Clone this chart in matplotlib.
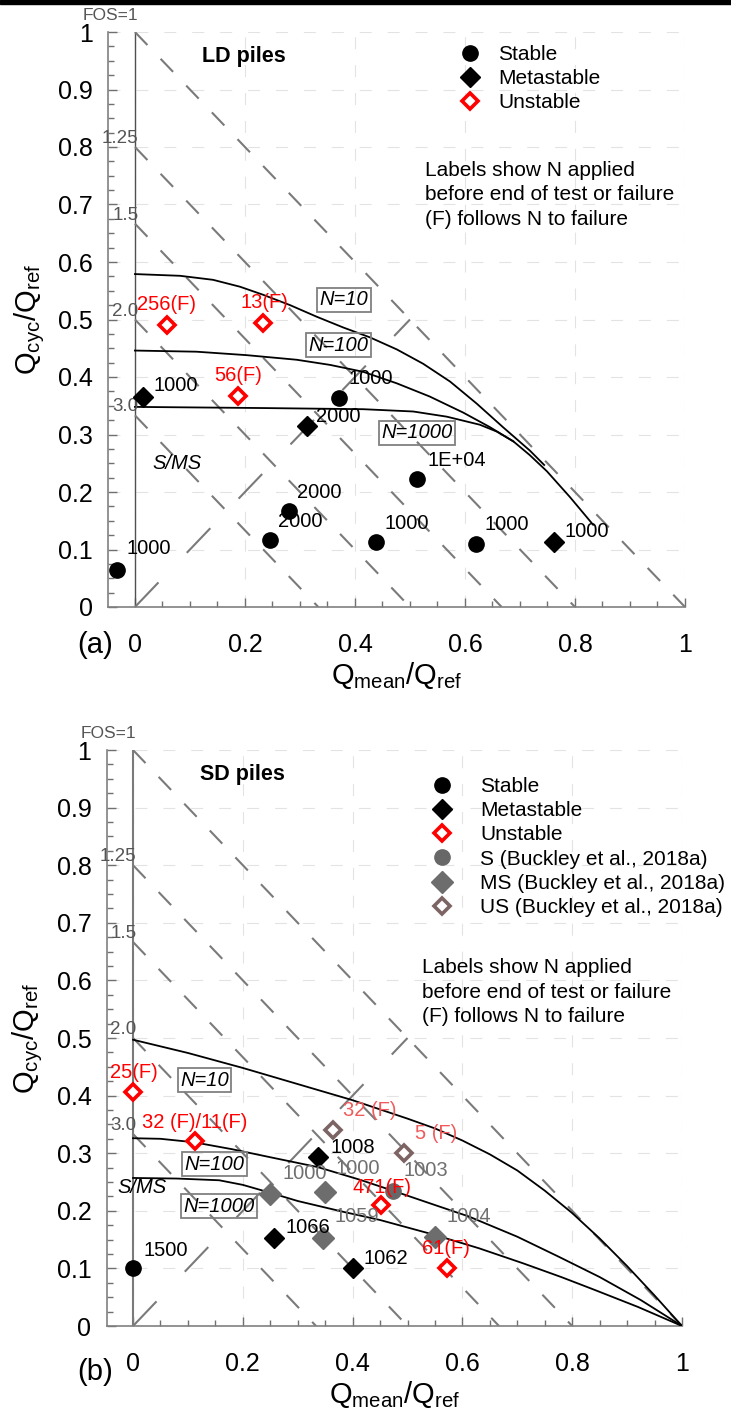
import matplotlib
matplotlib.use('Agg')
import matplotlib.pyplot as plt
import numpy as np
from matplotlib.lines import Line2D
from matplotlib.patches import Rectangle
from matplotlib.ticker import FuncFormatter

plt.rcParams['font.family'] = ['Liberation Sans', 'DejaVu Sans']
plt.rcParams['mathtext.fontset'] = 'custom'
plt.rcParams['mathtext.rm'] = 'Liberation Sans'
plt.rcParams['mathtext.it'] = 'Liberation Sans:italic'
plt.rcParams['lines.scale_dashes'] = False

# --- factor of safety lines (Qmean + Qcyc = 1/FOS) ---
fos_values = [1.0, 1.25, 1.5, 2.0, 3.0]
fos_labels = ['FOS=1', '1.25', '1.5', '2.0', '3.0']
one_way_x = [0.0, 0.5]
one_way_y = [0.0, 0.5]

# --- panel (a): LD piles ---
ld_stable_x = [-0.033, 0.245, 0.28, 0.371, 0.513, 0.438, 0.62]
ld_stable_y = [0.064, 0.117, 0.167, 0.363, 0.222, 0.113, 0.11]
ld_stable_n = ['1000', '2000', '2000', '1000', '1E+04', '1000', '1000']
ld_meta_x = [0.015, 0.313, 0.762]
ld_meta_y = [0.366, 0.314, 0.113]
ld_meta_n = ['1000', '2000', '1000']
ld_unst_x = [0.058, 0.233, 0.187]
ld_unst_y = [0.491, 0.494, 0.367]
ld_unst_n = ['256(F)', '13(F)', '56(F)']

ld_n10_x = [0.0, 0.082, 0.142, 0.191, 0.233, 0.282, 0.33, 0.379, 0.427, 0.476,
            0.524, 0.573, 0.621, 0.67, 0.718, 0.744]
ld_n10_y = [0.579, 0.576, 0.569, 0.557, 0.543, 0.525, 0.505, 0.486, 0.469, 0.448,
            0.423, 0.392, 0.354, 0.312, 0.272, 0.247]
ld_n100_x = [0.0, 0.112, 0.203, 0.294, 0.355, 0.415, 0.476, 0.536, 0.597, 0.645, 0.688]
ld_n100_y = [0.446, 0.444, 0.438, 0.43, 0.421, 0.409, 0.389, 0.366, 0.338, 0.313, 0.288]
ld_n1000_x = [0.0, 0.233, 0.415, 0.506, 0.567, 0.627, 0.658, 0.688, 0.718, 0.749, 0.791, 0.833]
ld_n1000_y = [0.348, 0.346, 0.344, 0.34, 0.331, 0.317, 0.305, 0.288, 0.264, 0.236, 0.191, 0.143]

# --- panel (b): SD piles ---
sd_stable_x = [0.0]
sd_stable_y = [0.1]
sd_stable_n = ['1500']
sd_meta_x = [0.337, 0.257, 0.40]
sd_meta_y = [0.293, 0.153, 0.10]
sd_meta_n = ['1008', '1066', '1062']
sd_unst_x = [0.0, 0.113, 0.451, 0.571]
sd_unst_y = [0.406, 0.321, 0.21, 0.10]
sd_unst_n = ['25(F)', '32 (F)/11(F)', '471(F)', '61(F)']
bk_s_x = [0.474]
bk_s_y = [0.234]
bk_s_n = ['1003']
bk_ms_x = [0.25, 0.35, 0.346, 0.55]
bk_ms_y = [0.229, 0.233, 0.153, 0.155]
bk_ms_n = ['1000', '1000', '1059', '1004']
bk_us_x = [0.364, 0.494]
bk_us_y = [0.34, 0.30]
bk_us_n = ['32 (F)', '5 (F)']

sd_n10_x = [0.0, 0.1, 0.2, 0.3, 0.4, 0.5, 0.55, 0.6, 0.65, 0.7, 0.75, 0.8, 0.85, 0.9, 0.95, 1.0]
sd_n10_y = [0.497, 0.474, 0.448, 0.42, 0.392, 0.36, 0.343, 0.322, 0.298, 0.27, 0.235,
            0.196, 0.152, 0.104, 0.053, 0.0]
sd_n100_x = [0.0, 0.05, 0.111, 0.18, 0.255, 0.336, 0.413, 0.473, 0.55, 0.612, 0.7, 0.776, 0.85, 0.925, 1.0]
sd_n100_y = [0.326, 0.325, 0.319, 0.307, 0.292, 0.276, 0.254, 0.235, 0.21, 0.19, 0.155, 0.12, 0.085, 0.045, 0.0]
sd_n1000_x = [0.0, 0.08, 0.157, 0.2, 0.251, 0.3, 0.384, 0.45, 0.55, 0.63, 0.71, 0.78, 0.84, 0.92, 1.0]
sd_n1000_y = [0.257, 0.256, 0.253, 0.245, 0.231, 0.217, 0.198, 0.184, 0.158, 0.135, 0.109, 0.085, 0.063, 0.033, 0.0]

# --- label offsets (pixels) ---
ld_stable_off = [(10, 22), (8, 18), (8, 18), (9, 20), (10, 19), (9, 19), (9, 19)]
ld_meta_off = [(10, 11), (9, 10), (10, 11)]
ld_unst_off = [(0, 20), (1, 20), (0, 20)]
sd_stable_off = [(10, 18)]
sd_meta_off = [(12, 10), (11, 10), (11, 10)]
sd_unst_off = [(1, 20), (0, 19), (1, 18), (-1, 20)]
bk_s_off = [(10, 21)]
bk_ms_off = [(12, 21), (10, 23), (12, 21), (12, 20)]
bk_us_off = [(10, 20), (11, 20)]

RED = '#ff0000'
LIGHT_RED = '#f05a5a'
GRAY_TXT = '#707070'
LINE_GRAY = '#7a7a7a'
LBL = 14.5

stable_kw = dict(marker='o', ms=11, color='black', ls='none')
meta_kw = dict(marker='D', ms=10.5, color='black', ls='none')
unst_kw = dict(marker='D', ms=8.5, mfc='white', mec=RED, mew=2.6, ls='none')
bks_kw = dict(marker='o', ms=11, color='#676767', ls='none')
bkms_kw = dict(marker='D', ms=11, color='#6d6d6d', ls='none')
bkus_kw = dict(marker='D', ms=8.5, mfc='white', mec='#7d6464', mew=2.6, ls='none')


def style_axes(ax, x0, vline_color, vline_lw):
    ax.set_xlim(x0, 1.0)
    ax.set_ylim(0, 1.0)
    for s in ['top', 'right']:
        ax.spines[s].set_visible(False)
    for s in ['left', 'bottom']:
        ax.spines[s].set_color('#808080')
        ax.spines[s].set_linewidth(1.2)
    ax.set_xticks(np.arange(0, 1.001, 0.2))
    ax.set_xticks(np.arange(0, 1.001, 0.05), minor=True)
    ax.set_yticks(np.arange(0, 1.001, 0.1))
    ax.set_yticks(np.arange(0, 1.001, 0.025), minor=True)
    fmt = FuncFormatter(lambda v, p: f'{v:g}')
    ax.xaxis.set_major_formatter(fmt)
    ax.yaxis.set_major_formatter(fmt)
    ax.tick_params(which='both', direction='in', color='#707070', labelsize=18)
    ax.tick_params(which='major', length=6.5, width=1)
    ax.tick_params(which='minor', length=4, width=1)
    ax.tick_params(axis='x', pad=19)
    ax.tick_params(axis='y', pad=11)
    ax.grid(True, which='major', color='#e3e3e3', lw=0.8, ls=(0, (8.6, 11.5)))
    ax.set_axisbelow(True)
    ax.axvline(0, color=vline_color, lw=vline_lw, zorder=2)
    for f, lab in zip(fos_values, fos_labels):
        ax.plot([0, 1 / f], [1 / f, 0], color=LINE_GRAY, lw=1.5,
                ls=(0, (13, 13.7)), zorder=2)
        if f == 1.0:
            ax.text(0.006, 1.015, lab, ha='right', va='bottom', fontsize=12.5,
                    color='#555555', zorder=5)
        else:
            ax.text(0.006, 1 / f, lab, ha='right', va='bottom', fontsize=13.5,
                    color='#555555', zorder=5)
    ax.plot(one_way_x, one_way_y, color=LINE_GRAY, lw=1.5,
            ls=(0, (24.5, 29.5)), zorder=2)
    ax.set_xlabel(r'$\mathrm{Q_{mean}/Q_{ref}}$', fontsize=21, labelpad=2)
    ax.set_ylabel(r'$\mathrm{Q_{cyc}/Q_{ref}}$', fontsize=21, labelpad=8)


def n_box(ax, x, y, txt):
    ax.text(x, y, txt, ha='center', va='center', fontsize=14.5, style='italic',
            zorder=6, bbox=dict(boxstyle='square,pad=0.12', fc='none',
                                ec='#808080', lw=1.3))


def points(ax, xs, ys, labels, offs, kw, color, ha):
    ax.plot(xs, ys, zorder=7, clip_on=False, **kw)
    for x, y, lab, (dx, dy) in zip(xs, ys, labels, offs):
        ax.annotate(lab, (x, y), xytext=(dx, dy), textcoords='offset pixels',
                    ha=ha, va='center', fontsize=LBL, color=color, zorder=8)


note = 'Labels show N applied\nbefore end of test or failure\n(F) follows N to failure'

fig = plt.figure(figsize=(7.31, 14.19), dpi=100)
fig.patches.append(Rectangle((0, 1 - 4 / 1419), 1, 4 / 1419,
                             transform=fig.transFigure, color='black'))

# ---------------- panel (a) ----------------
ax1 = fig.add_axes([108 / 731, 1 - 607 / 1419, 577 / 731, 575 / 1419])
style_axes(ax1, -0.049, '#505050', 1.0)
for cx, cy in [(ld_n10_x, ld_n10_y), (ld_n100_x, ld_n100_y), (ld_n1000_x, ld_n1000_y)]:
    ax1.plot(cx, cy, color='black', lw=1.3, zorder=4)
n_box(ax1, 0.38, 0.534, 'N=10')
n_box(ax1, 0.37, 0.455, 'N=100')
n_box(ax1, 0.512, 0.303, 'N=1000')
points(ax1, ld_stable_x, ld_stable_y, ld_stable_n, ld_stable_off, stable_kw, 'black', 'left')
points(ax1, ld_meta_x, ld_meta_y, ld_meta_n, ld_meta_off, meta_kw, 'black', 'left')
points(ax1, ld_unst_x, ld_unst_y, ld_unst_n, ld_unst_off, unst_kw, RED, 'center')
ax1.text(0.031, 0.25, 'S/MS', fontsize=14.5, style='italic', va='center')
ax1.text(0.122, 0.957, 'LD piles', fontsize=15.5, fontweight='bold', va='center')
ax1.text(0.527, 0.717, note, fontsize=15, va='center', ha='left', linespacing=1.36)
h1 = [Line2D([], [], **stable_kw), Line2D([], [], **meta_kw), Line2D([], [], **unst_kw)]
ax1.legend(h1, ['Stable', 'Metastable', 'Unstable'], loc='upper left',
           bbox_to_anchor=(0.59, 0.9775), bbox_transform=ax1.transData,
           frameon=False, fontsize=15, borderpad=0, borderaxespad=0,
           labelspacing=0.25, handlelength=1.0, handletextpad=0.85)
fig.text(77 / 731, 1 - 645 / 1419, '(a)', fontsize=21, va='center', ha='left')

# ---------------- panel (b) ----------------
ax2 = fig.add_axes([106.7 / 731, 1 - 1326 / 1419, 575.3 / 731, 576 / 1419])
style_axes(ax2, -0.048, '#7a7a7a', 1.5)
for cx, cy in [(sd_n10_x, sd_n10_y), (sd_n100_x, sd_n100_y), (sd_n1000_x, sd_n1000_y)]:
    ax2.plot(cx, cy, color='black', lw=1.3, zorder=4)
n_box(ax2, 0.13, 0.427, 'N=10')
n_box(ax2, 0.148, 0.281, 'N=100')
n_box(ax2, 0.156, 0.208, 'N=1000')
points(ax2, bk_ms_x, bk_ms_y, bk_ms_n, bk_ms_off, bkms_kw, GRAY_TXT, 'left')
points(ax2, bk_s_x, bk_s_y, bk_s_n, bk_s_off, bks_kw, GRAY_TXT, 'left')
points(ax2, bk_us_x, bk_us_y, bk_us_n, bk_us_off, bkus_kw, LIGHT_RED, 'left')
points(ax2, sd_stable_x, sd_stable_y, sd_stable_n, sd_stable_off, stable_kw, 'black', 'left')
points(ax2, sd_meta_x, sd_meta_y, sd_meta_n, sd_meta_off, meta_kw, 'black', 'left')
points(ax2, sd_unst_x, sd_unst_y, sd_unst_n, sd_unst_off, unst_kw, RED, 'center')
ax2.text(-0.029, 0.241, 'S/MS', fontsize=14.5, style='italic', va='center')
ax2.text(0.122, 0.957, 'SD piles', fontsize=15.5, fontweight='bold', va='center')
ax2.text(0.526, 0.5795, note, fontsize=15, va='center', ha='left', linespacing=1.36)
h2 = [Line2D([], [], **stable_kw), Line2D([], [], **meta_kw), Line2D([], [], **unst_kw),
      Line2D([], [], **bks_kw), Line2D([], [], **bkms_kw), Line2D([], [], **bkus_kw)]
ax2.legend(h2, ['Stable', 'Metastable', 'Unstable', 'S (Buckley et al., 2018a)',
                'MS (Buckley et al., 2018a)', 'US (Buckley et al., 2018a)'],
           loc='upper left', bbox_to_anchor=(0.544, 0.953), bbox_transform=ax2.transData,
           frameon=False, fontsize=15, borderpad=0, borderaxespad=0,
           labelspacing=0.25, handlelength=1.0, handletextpad=1.33)
fig.text(77 / 731, 1 - 1372 / 1419, '(b)', fontsize=21, va='center', ha='left')

fig.savefig('out.png', dpi=100)
